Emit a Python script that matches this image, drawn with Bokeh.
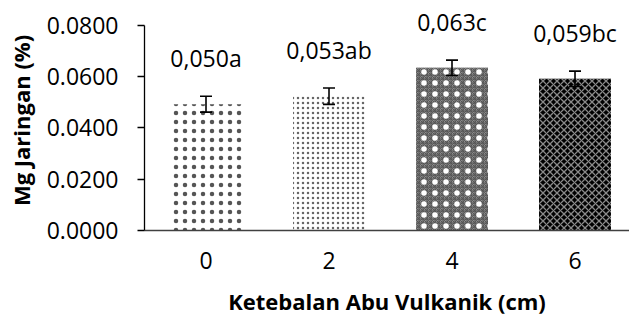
from bokeh.plotting import figure
from bokeh.models import (ColumnDataSource, Range1d, FixedTicker, NumeralTickFormatter,
                          Whisker, TeeHead)
from bokeh.core.properties import value
from bokeh.embed import file_html
from bokeh.resources import INLINE

categories = ["0", "2", "4", "6"]
values = [0.0493, 0.0524, 0.0635, 0.0592]
errors = [0.0031, 0.0032, 0.0030, 0.0030]
labels = ["0,050a", "0,053ab", "0,063c", "0,059bc"]
y_ticks = [0.0, 0.02, 0.04, 0.06, 0.08]

xs = list(range(len(categories)))
upper = [v + e for v, e in zip(values, errors)]
lower = [v - e for v, e in zip(values, errors)]
src = ColumnDataSource(dict(x=xs, top=values, upper=upper, lower=lower, label=labels))

FONT = "Open Sans"

p = figure(width=629, height=325, output_backend="svg", toolbar_location=None,
           x_range=Range1d(-0.5, 3.443), y_range=Range1d(0, 0.08585),
           min_border_left=144, min_border_right=0, min_border_top=10, min_border_bottom=95)
p.outline_line_color = None
p.xgrid.visible = False
p.ygrid.visible = False
p.background_fill_color = "white"
p.border_fill_color = "white"

styles = [
    dict(fill_color="white", hatch_pattern="dot", hatch_color="#555555", hatch_scale=9, hatch_weight=0.6),
    dict(fill_color="white", hatch_pattern="dot", hatch_color="#666666", hatch_scale=5, hatch_weight=1.1),
    dict(fill_color="#8c8c8c", hatch_pattern="criss_cross", hatch_color="#555555", hatch_scale=4, hatch_weight=1),
    dict(fill_color="#000000", hatch_pattern="diagonal_cross", hatch_color="#8a8a8a", hatch_scale=7, hatch_weight=1.3),
]
for i, st in enumerate(styles):
    p.vbar(x=[xs[i]], top=[values[i]], bottom=0, width=0.585, line_color=None, **st)
# white sparkles overlay on bar 4
p.vbar(x=[xs[2]], top=[values[2]], bottom=0, width=0.585, line_color=None,
       fill_alpha=0, hatch_pattern="dot", hatch_color="white", hatch_scale=11, hatch_weight=0.7)

w = Whisker(source=src, base="x", upper="upper", lower="lower", line_color="black", line_width=1.6,
            level="overlay",
            upper_head=TeeHead(size=12, line_color="black", line_width=1.6),
            lower_head=TeeHead(size=12, line_color="black", line_width=1.6))
p.add_layout(w)

p.text(x="x", y="upper", text="label", source=src, text_align="center", text_baseline="alphabetic",
       y_offset=-38, text_font=value(FONT), text_font_size="23px", text_color="black")

# y axis
ya = p.yaxis[0]
ya.bounds = (0, 0.08)
ya.ticker = FixedTicker(ticks=y_ticks)
ya.formatter = NumeralTickFormatter(format="0.0000")
ya.major_tick_out = 7
ya.major_tick_in = 0
ya.minor_tick_out = 0
ya.minor_tick_in = 0
ya.major_label_standoff = 19
ya.axis_line_color = "black"
ya.axis_line_width = 1.3
ya.major_tick_line_color = "black"
ya.major_tick_line_width = 1.3
ya.major_label_text_font = FONT
ya.major_label_text_font_size = "23px"
ya.major_label_text_color = "black"
ya.axis_label = "Mg Jaringan (%)"
ya.axis_label_text_font = FONT
ya.axis_label_text_font_style = "bold"
ya.axis_label_text_font_size = "22px"
ya.axis_label_text_color = "black"
ya.axis_label_standoff = 8

# x axis
xa = p.xaxis[0]
xa.ticker = FixedTicker(ticks=xs)
xa.major_label_overrides = {x: c for x, c in zip(xs, categories)}
xa.major_tick_out = 0
xa.major_tick_in = 0
xa.minor_tick_out = 0
xa.minor_tick_in = 0
xa.major_label_standoff = 21
xa.axis_line_color = "#404040"
xa.axis_line_width = 1.5
xa.major_label_text_font = FONT
xa.major_label_text_font_size = "23px"
xa.major_label_text_color = "black"
xa.axis_label = "Ketebalan Abu Vulkanik (cm)"
xa.axis_label_text_font = FONT
xa.axis_label_text_font_style = "bold"
xa.axis_label_text_font_size = "22px"
xa.axis_label_text_color = "black"
xa.axis_label_standoff = 14

open("out.html", "w").write(file_html(p, INLINE))
